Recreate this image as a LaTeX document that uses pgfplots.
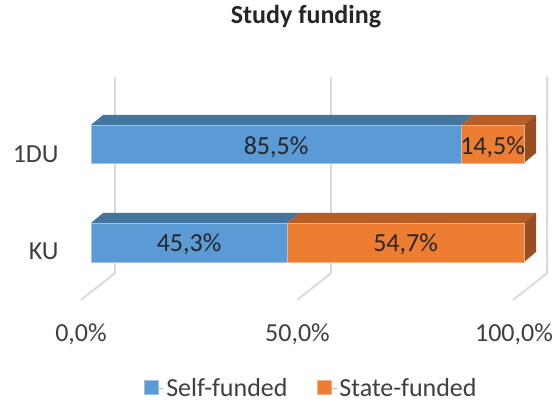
\documentclass[border=0pt]{standalone}
\usepackage{fontspec}
\setmainfont{Carlito}
\usepackage{pgfplots}
\pgfplotsset{compat=1.18}
\definecolor{bluefront}{HTML}{5B9BD5}
\definecolor{bluetop}{HTML}{43759F}
\definecolor{orfront}{HTML}{ED7D31}
\definecolor{ortop}{HTML}{B65E26}
\definecolor{orside}{HTML}{9A4E1F}
\definecolor{gridc}{HTML}{D9D9D9}
\definecolor{txt}{HTML}{404040}
\newcommand{\lbl}{\fontsize{19.5}{23.4}\selectfont}
\begin{document}
\begin{tikzpicture}
\begin{axis}[
  x=3.2475pt, y=0.75pt,
  xmin=-21.016, xmax=106.697, ymin=0, ymax=403,
  scale only axis, clip=false,
  axis line style={draw=none},
  axis background/.style={fill=white},
  tick style={draw=none},
  xtick={0,50,100},
  xticklabels={{0,0\%},{50,0\%},{100,0\%}},
  xticklabel style={anchor=base, xshift=-7.5pt, yshift=45.75pt, font=\lbl, text=txt},
  ytick={143,240},
  yticklabels={KU,1DU},
  yticklabel style={anchor=base east, xshift=47.5pt, font=\lbl, text=txt},
  title={Study funding},
  title style={at={(0.5533,0.9206)}, anchor=base, font=\lbl\bfseries, text=black!85},
  legend columns=2,
  legend cell align=left,
  legend style={at={(0.5633,0)}, anchor=south, yshift=2pt, draw=none, fill=none,
    inner sep=0pt, font=\lbl, text=txt,
    nodes={inner xsep=2pt, inner ysep=1pt},
    /tikz/every even column/.append style={column sep=20pt}},
  legend image code/.code={\fill[#1] (0pt,-4.5pt) rectangle (10.5pt,6pt); \path (10.5pt,0pt) -- (14.5pt,0pt);},
]
% back-wall gridlines and floor lines
\addplot[gridc, line width=1.4pt, forget plot] coordinates {(5.54,326) (5.54,130) (-2.31,103)};
\addplot[gridc, line width=1.4pt, forget plot] coordinates {(55.44,326) (55.44,130) (47.60,103)};
\addplot[gridc, line width=1.4pt, forget plot] coordinates {(105.34,326) (105.34,130) (97.46,103)};
% 1DU bar: top and side faces
\addplot[fill=bluetop, draw=none, forget plot] coordinates {(0,278) (85.5,278) (88.27,288) (2.77,288)} -- cycle;
\addplot[fill=ortop, draw=none, forget plot] coordinates {(85.5,278) (100,278) (102.77,288) (88.27,288)} -- cycle;
\addplot[fill=orside, draw=none, forget plot] coordinates {(100,240) (102.77,250) (102.77,288) (100,278)} -- cycle;
% KU bar: top and side faces
\addplot[fill=bluetop, draw=none, forget plot] coordinates {(0,180) (45.3,180) (48.07,190) (2.77,190)} -- cycle;
\addplot[fill=ortop, draw=none, forget plot] coordinates {(45.3,180) (100,180) (102.77,190) (48.07,190)} -- cycle;
\addplot[fill=orside, draw=none, forget plot] coordinates {(100,141) (102.77,151) (102.77,190) (100,180)} -- cycle;
% front faces
\addplot[fill=bluefront, draw=bluefront!60!white, line width=0.4pt] coordinates {(0,240) (85.5,240) (85.5,278) (0,278)} -- cycle;
\addplot[fill=orfront, draw=orfront!60!white, line width=0.4pt] coordinates {(85.5,240) (100,240) (100,278) (85.5,278)} -- cycle;
\addplot[fill=bluefront, draw=bluefront!60!white, line width=0.4pt, forget plot] coordinates {(0,141) (45.3,141) (45.3,180) (0,180)} -- cycle;
\addplot[fill=orfront, draw=orfront!60!white, line width=0.4pt, forget plot] coordinates {(45.3,141) (100,141) (100,180) (45.3,180)} -- cycle;
\legend{Self-funded, State-funded}
% value labels
\addplot[only marks, mark=*, mark size=0pt, mark options={draw=none, fill=none},
  point meta=explicit symbolic, nodes near coords,
  every node near coord/.append style={anchor=base, font=\lbl, text=black!85, inner sep=0pt},
  forget plot]
  coordinates {(42.75,248) [{85,5\%}] (92.75,248) [{14,5\%}] (22.65,151) [{45,3\%}] (72.65,151) [{54,7\%}]};
\end{axis}
\pgfresetboundingbox
\useasboundingbox (current axis.south west) rectangle (current axis.north east);
\end{tikzpicture}
\end{document}
